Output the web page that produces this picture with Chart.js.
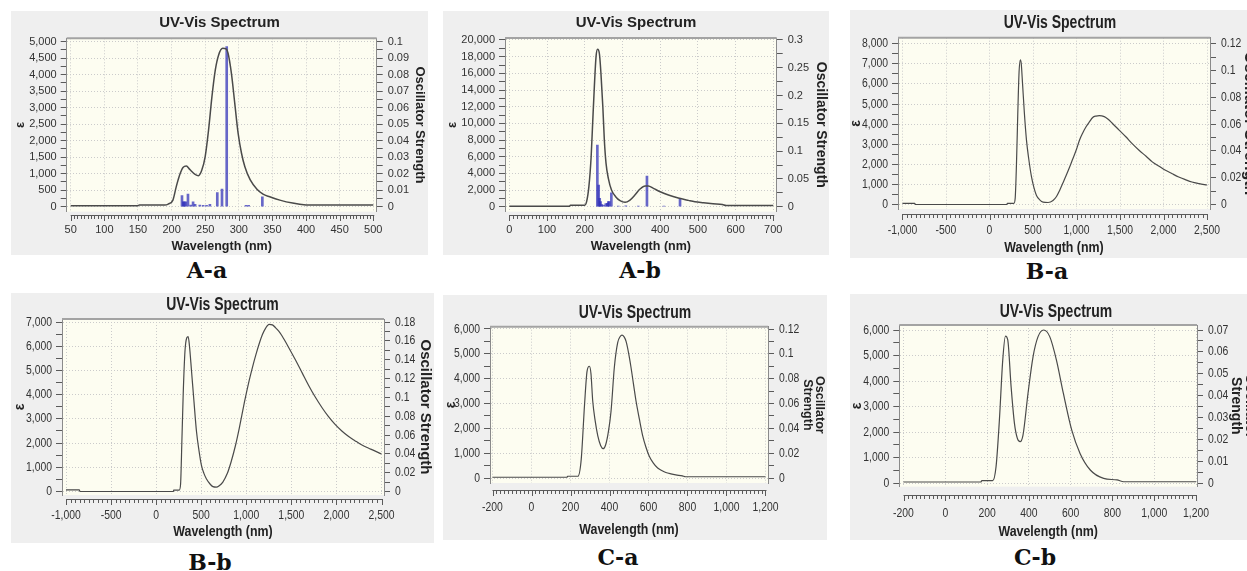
<!DOCTYPE html>
<html>
<head>
<meta charset="utf-8">
<title>UV-Vis Spectra</title>
<script src="https://cdn.jsdelivr.net/npm/chart.js@4.4.1/dist/chart.umd.min.js"></script>
<style>
  html, body { margin: 0; padding: 0; background: #fff; width: 1247px; height: 571px; overflow: hidden; position: relative; }
  canvas.panel { position: absolute; background: #efefef; }
  .tag { position: absolute; font-family: "DejaVu Serif", serif; font-weight: bold; font-size: 22px; line-height: 1; color: #111; transform: translate(-50%, -50%); white-space: nowrap; }
</style>
</head>
<body>
<script>
// ---- A-a ----
const aaWave = [50, 150, 152, 190, 195, 202, 207, 212, 217, 222, 227, 235, 240, 245, 250, 255, 260, 265, 270, 276, 281, 284, 289, 294, 299, 304, 309, 317, 327, 336, 346, 361, 380, 400, 410, 500];
const aaEps = [30, 30, 50, 50, 80, 200, 610, 960, 1190, 1230, 1130, 980, 940, 1110, 1520, 2320, 3330, 4140, 4600, 4800, 4780, 4650, 4040, 3130, 2220, 1620, 1210, 810, 530, 380, 300, 200, 110, 55, 50, 50];
const aaStickWave = [215.5, 217.5, 219, 221, 224.4, 228.4, 232, 235, 242, 247, 252, 257, 268, 275, 282, 310.7, 314.6, 335];
const aaStickOsc = [0.0067, 0.003, 0.003, 0.003, 0.0077, 0.001, 0.003, 0.0015, 0.001, 0.0008, 0.0008, 0.0015, 0.0086, 0.0107, 0.097, 0.0008, 0.0008, 0.006];
const aaXAxis = [50, 500, 50, 5];        // first, last, labelled step, minor step
const aaYAxis = [5000, 500, 250];        // top, labelled step, minor step
const aaY2Axis = [0.1, 0.01, 0.005];

// ---- A-b ----
const abWave = [0, 160, 162, 200, 205, 211, 217, 221, 225.5, 230, 234, 239, 243, 248, 252, 256.5, 262.6, 271, 282, 293.6, 307, 320, 333, 346.6, 360, 368.7, 382, 400, 422, 448, 475, 492, 515, 540, 565, 575, 700];
const abEps = [60, 60, 180, 180, 600, 2400, 6000, 10000, 14400, 18000, 18880, 18320, 16000, 12000, 8000, 5200, 3400, 2000, 1200, 720, 520, 800, 1400, 2120, 2480, 2480, 2200, 1800, 1400, 1040, 760, 600, 480, 360, 260, 150, 150];
const abStickWave = [233.5, 237, 239.7, 242, 245, 250, 256, 260, 262.6, 265, 270.6, 289, 309, 342, 365, 410, 452.7];
const abStickOsc = [0.111, 0.039, 0.015, 0.009, 0.004, 0.003, 0.0055, 0.006, 0.009, 0.009, 0.025, 0.001, 0.0015, 0.001, 0.055, 0.001, 0.015];
const abXAxis = [0, 700, 100, 10];
const abYAxis = [20000, 2000, 1000];
const abY2Axis = [0.3, 0.05, 0.025];

// ---- B-a ----
const baWave = [-1000, -860, -850, 200, 205, 280, 295, 310, 325, 340, 355, 365, 380, 400, 425, 450, 483, 510, 540, 580, 616, 673, 730, 770, 806, 845, 882, 920, 958, 1000, 1034, 1070, 1110, 1150, 1186, 1224, 1262, 1319, 1360, 1414, 1490, 1567, 1640, 1719, 1800, 1871, 1950, 2023, 2100, 2175, 2250, 2327, 2410, 2500];
const baEps = [60, 60, 0, 0, 60, 60, 300, 2000, 4500, 6600, 7200, 7000, 6000, 4600, 3200, 2300, 1370, 850, 450, 220, 120, 100, 200, 400, 700, 1080, 1450, 1850, 2280, 2750, 3200, 3550, 3870, 4120, 4330, 4400, 4420, 4370, 4250, 4030, 3700, 3370, 3030, 2700, 2400, 2120, 1900, 1700, 1530, 1370, 1240, 1120, 1040, 970];
const baXAxis = [-1000, 2500, 500, 50];
const baYAxis = [8000, 1000, 500];
const baY2Axis = [0.12, 0.02, 0.01];

// ---- B-b ----
const bbWave = [-1000, -853, -845, 190, 195, 256, 271, 285, 300, 320, 340, 355, 370, 392, 420, 447, 475, 502, 530, 557, 600, 630, 667, 700, 740, 790, 832, 880, 923, 980, 1033, 1070, 1106, 1143, 1179, 1215, 1253, 1290, 1326, 1360, 1399, 1470, 1546, 1620, 1692, 1765, 1839, 1910, 1985, 2060, 2132, 2205, 2278, 2380, 2500];
const bbEps = [70, 70, 0, 0, 60, 60, 300, 2000, 4000, 5800, 6350, 6400, 6000, 5000, 3700, 2500, 1700, 1090, 750, 530, 300, 200, 180, 240, 390, 750, 1230, 1900, 2630, 3700, 4600, 5150, 5640, 6100, 6480, 6750, 6900, 6880, 6760, 6620, 6410, 5950, 5430, 4900, 4380, 3900, 3470, 3100, 2770, 2500, 2280, 2100, 1930, 1750, 1550];
const bbXAxis = [-1000, 2500, 500, 50];
const bbYAxis = [7000, 1000, 500];
const bbY2Axis = [0.18, 0.02, 0.01];

// ---- C-a ----
const caWave = [-200, 182, 185, 238, 255, 272, 285, 297, 305, 314, 327, 340, 355, 368, 380, 395, 408, 425, 442, 455, 464, 475, 485, 497, 510, 523, 536, 553, 570, 587, 604, 625, 647, 670, 689, 715, 740, 774, 790, 1200];
const caEps = [30, 30, 70, 70, 750, 2950, 4300, 4500, 4200, 3100, 2280, 1700, 1300, 1180, 1330, 1900, 2700, 4470, 5450, 5700, 5750, 5680, 5500, 5070, 4470, 3780, 3100, 2380, 1710, 1240, 880, 600, 400, 290, 220, 165, 125, 85, 50, 50];
const caXAxis = [-200, 1200, 200, 20];
const caYAxis = [6000, 1000, 500];
const caY2Axis = [0.12, 0.02, 0.01];

// ---- C-b ----
const cbWave = [-200, 170, 175, 227, 243, 259, 275, 288, 299, 315, 331, 345, 358, 372, 396, 420, 444, 471, 500, 532, 565, 605, 645, 694, 758, 822, 854, 1200];
const cbEps = [40, 40, 90, 90, 640, 2470, 4820, 5760, 5610, 3780, 2340, 1750, 1620, 1880, 3520, 4950, 5740, 6000, 5740, 4820, 3520, 2080, 1160, 510, 180, 120, 50, 50];
const cbXAxis = [-200, 1200, 200, 20];
const cbYAxis = [6000, 1000, 500];
const cbY2Axis = [0.07, 0.01, 0.005];

const panels = [
  { tag: 'A-a', wave: aaWave, eps: aaEps, stickWave: aaStickWave, stickOsc: aaStickOsc, xAxis: aaXAxis, yAxis: aaYAxis, y2Axis: aaY2Axis, rightTitle: 'Oscillator Strength' },
  { tag: 'A-b', wave: abWave, eps: abEps, stickWave: abStickWave, stickOsc: abStickOsc, xAxis: abXAxis, yAxis: abYAxis, y2Axis: abY2Axis, rightTitle: 'Oscillator Strength' },
  { tag: 'B-a', wave: baWave, eps: baEps, stickWave: [], stickOsc: [], xAxis: baXAxis, yAxis: baYAxis, y2Axis: baY2Axis, rightTitle: 'Oscillator Strength' },
  { tag: 'B-b', wave: bbWave, eps: bbEps, stickWave: [], stickOsc: [], xAxis: bbXAxis, yAxis: bbYAxis, y2Axis: bbY2Axis, rightTitle: 'Oscillator Strength' },
  { tag: 'C-a', wave: caWave, eps: caEps, stickWave: [], stickOsc: [], xAxis: caXAxis, yAxis: caYAxis, y2Axis: caY2Axis, rightTitle: ['Oscillator', 'Strength'] },
  { tag: 'C-b', wave: cbWave, eps: cbEps, stickWave: [], stickOsc: [], xAxis: cbXAxis, yAxis: cbYAxis, y2Axis: cbY2Axis, rightTitle: ['Oscillator', 'Strength'] }
];

// page layout (pixels), kept apart from the data
const layout = {
  'A-a': { box: [11, 11, 428, 255], plot: [66.7, 38.3, 376.7, 211.7], xPx: [70.7, 373.3], yPx: [206.7, 41.7], ruler: 215, titleY: 23, xLabelY: 230, xTitleY: 247, epsX: 20.7, rightX: 420, narrow: false, rightSize: 13, rightLH: 1.2, tagXY: [207, 270] },
  'A-b': { box: [443, 11, 829, 255], plot: [505, 38, 776.7, 211.7], xPx: [509.3, 773.3], yPx: [206.7, 40], ruler: 215, titleY: 23, xLabelY: 230, xTitleY: 247, epsX: 452, rightX: 821, narrow: false, rightSize: 14, rightLH: 1.2, tagXY: [640, 270] },
  'B-a': { box: [850, 10, 1270, 258], plot: [898, 37.7, 1210, 209], xPx: [902.5, 1207], yPx: [204.5, 43.7], ruler: 214, titleY: 23.3, xLabelY: 230, xTitleY: 248, epsX: 856, rightX: 1249, narrow: true, rightSize: 16, rightLH: 1.2, tagXY: [1047, 271] },
  'B-b': { box: [11, 293, 434, 543], plot: [62, 319, 384, 495], xPx: [66, 381.5], yPx: [491.5, 322], ruler: 499, titleY: 305, xLabelY: 515, xTitleY: 532, epsX: 20, rightX: 425, narrow: true, rightSize: 15, rightLH: 1.2, tagXY: [210, 562] },
  'C-a': { box: [443, 295, 827, 540], plot: [490, 326.7, 768, 483], xPx: [492.5, 765.5], yPx: [478, 329], ruler: 490, titleY: 313, xLabelY: 507, xTitleY: 530, epsX: 451, rightX: 819, narrow: true, rightSize: 12.5, rightLH: 0.9, tagXY: [618, 557] },
  'C-b': { box: [850, 294, 1262, 540], plot: [899.3, 325, 1197, 486.7], xPx: [903.5, 1196], yPx: [483, 330], ruler: 495, titleY: 312, xLabelY: 513, xTitleY: 532, epsX: 857, rightX: 1250, narrow: true, rightSize: 14, rightLH: 1.0, tagXY: [1035, 557] }
};

const SANS = '"Liberation Sans", Arial, sans-serif';
const NARROW = '"Liberation Sans Narrow", "Liberation Sans", Arial, sans-serif';
const SQUEEZE = 0.8;   // the B and C screenshots were squeezed sideways

function isMajor(v, step) {
  const r = v / step;
  return Math.abs(r - Math.round(r)) < 1e-6;
}

function tickList(lo, hi, step) {
  const n = Math.round((hi - lo) / step);
  const out = [];
  for (let i = 0; i <= n; i++) out.push({ value: +(lo + i * step).toFixed(6) });
  return out;
}

// draws text in the "Narrow" family a bit condensed, around its own anchor
function squeezeText(ctx) {
  const fill = ctx.fillText.bind(ctx);
  ctx.fillText = function (text, x, y, maxWidth) {
    if (this.font.indexOf('Narrow') < 0) return fill(text, x, y, maxWidth);
    this.save();
    this.translate(x, y);
    this.scale(SQUEEZE, 1);
    fill(text, 0, 0);
    this.restore();
  };
}

// cream plot area + top frame line
const framePlugin = {
  id: 'frame',
  beforeDraw(chart) {
    const { ctx, chartArea: a } = chart;
    ctx.save();
    ctx.fillStyle = '#fdfdf1';
    ctx.fillRect(a.left, a.top, a.right - a.left, a.bottom - a.top);
    ctx.restore();
  },
  afterDraw(chart) {
    const { ctx, chartArea: a } = chart;
    ctx.save();
    ctx.strokeStyle = '#a3a3a3';
    ctx.lineWidth = 2;
    ctx.beginPath();
    ctx.moveTo(a.left, a.top);
    ctx.lineTo(a.right, a.top);
    ctx.stroke();
    ctx.restore();
  }
};

// wavelength ruler sitting a little under the plot, built from the x scale
const rulerPlugin = {
  id: 'ruler',
  afterDraw(chart, args, opts) {
    const xs = chart.scales.x;
    const ctx = chart.ctx;
    const y0 = opts.y;
    ctx.save();
    ctx.strokeStyle = '#5a5a5a';
    ctx.lineWidth = 1;
    ctx.beginPath();
    ctx.moveTo(xs.getPixelForValue(opts.lo), y0 + 0.5);
    ctx.lineTo(xs.getPixelForValue(opts.hi) + 1, y0 + 0.5);
    xs.ticks.forEach(t => {
      const px = Math.round(xs.getPixelForValue(t.value)) + 0.5;
      const len = isMajor(t.value, opts.major) ? 6 : 4;
      ctx.moveTo(px, y0);
      ctx.lineTo(px, y0 + len);
    });
    ctx.stroke();
    ctx.restore();
  }
};

function makeChart(p) {
  const L = layout[p.tag];
  const [bl, bt, br, bb] = L.box;
  const w = br - bl, h = bb - bt;
  const [pl, pt, pr, pb] = L.plot;
  const fam = L.narrow ? NARROW : SANS;
  const titleSize = L.narrow ? 17.5 : 15;
  const tickSize = L.narrow ? 13 : 11;
  const axisTitleSize = L.narrow ? 15.5 : 12.5;

  const [xlo, xhi, xMajor, xMinor] = p.xAxis;
  const [yTop, yMajor, yMinor] = p.yAxis;
  const [y2Top, y2Major, y2Minor] = p.y2Axis;

  // extend the scale ranges so the nominal ticks land where the reference has them
  const xPerPx = (xhi - xlo) / (L.xPx[1] - L.xPx[0]);
  const xMin = xlo - (L.xPx[0] - pl) * xPerPx;
  const xMax = xhi + (pr - L.xPx[1]) * xPerPx;
  const yPerPx = yTop / (L.yPx[0] - L.yPx[1]);
  const yMin = -(pb - L.yPx[0]) * yPerPx;
  const yMax = yTop + (L.yPx[1] - pt) * yPerPx;
  const k = y2Top / yTop;

  const canvas = document.createElement('canvas');
  canvas.className = 'panel';
  canvas.width = w;
  canvas.height = h;
  canvas.style.left = bl + 'px';
  canvas.style.top = bt + 'px';
  document.body.appendChild(canvas);
  squeezeText(canvas.getContext('2d'));

  const tag = document.createElement('div');
  tag.className = 'tag';
  tag.textContent = p.tag;
  tag.style.left = L.tagXY[0] + 'px';
  tag.style.top = L.tagXY[1] + 'px';
  document.body.appendChild(tag);

  const titleLH = titleSize * 1.2;
  const titlePadTop = L.titleY - bt - titleLH / 2;
  const titlePadBottom = pt - bt - titleLH - titlePadTop;

  const axisLH = axisTitleSize * 1.2;
  const epsSize = L.narrow ? 14 : 13;
  const epsLH = epsSize * 1.2;
  const rightLH = L.rightSize * L.rightLH;
  const gridColor = '#cbcbcb';

  const datasets = [{
    type: 'line',
    data: p.wave.map((x, i) => ({ x, y: p.eps[i] })),
    yAxisID: 'y',
    borderColor: '#4a4a4a',
    borderWidth: L.narrow ? 1.2 : 1.5,
    pointRadius: 0,
    cubicInterpolationMode: 'monotone',
    order: 1
  }];
  if (p.stickWave.length) {
    datasets.push({
      type: 'bar',
      data: p.stickWave.map((x, i) => ({ x, y: p.stickOsc[i] })),
      yAxisID: 'y2',
      backgroundColor: 'rgba(45, 45, 185, 0.72)',
      barThickness: 2,
      order: 2
    });
  }

  new Chart(canvas, {
    type: 'line',
    data: { datasets },
    plugins: [framePlugin, rulerPlugin],
    options: {
      responsive: false,
      animation: false,
      devicePixelRatio: 1,
      layout: { padding: 0 },
      plugins: {
        legend: { display: false },
        tooltip: { enabled: false },
        title: {
          display: true,
          text: 'UV-Vis Spectrum',
          color: '#222',
          font: { family: fam, size: titleSize, weight: 'bold' },
          padding: { top: titlePadTop, bottom: titlePadBottom }
        },
        ruler: { y: L.ruler - bt, lo: xlo, hi: xhi, major: xMajor }
      },
      scales: {
        x: {
          type: 'linear',
          min: xMin,
          max: xMax,
          bounds: 'data',
          offset: false,
          afterBuildTicks: s => { s.ticks = tickList(xlo, xhi, xMinor); },
          afterFit: s => { s.height = bb - pb; },
          ticks: {
            autoSkip: false,
            maxRotation: 0,
            color: '#333',
            font: { family: fam, size: tickSize },
            padding: L.xLabelY - pb - tickSize * 0.6,
            callback: v => isMajor(v, xMajor) ? v.toLocaleString('en-US') : ''
          },
          grid: {
            offset: false,
            drawTicks: false,
            color: c => (c.tick && isMajor(c.tick.value, xMajor)) ? gridColor : 'transparent'
          },
          border: { display: false, dash: [1, 2] },
          title: {
            display: true,
            text: 'Wavelength (nm)',
            color: '#222',
            font: { family: fam, size: axisTitleSize, weight: 'bold' },
            padding: { top: 0, bottom: bb - L.xTitleY - axisLH / 2 }
          }
        },
        y: {
          type: 'linear',
          position: 'left',
          min: yMin,
          max: yMax,
          bounds: 'data',
          afterBuildTicks: s => { s.ticks = tickList(0, yTop, yMinor); },
          afterFit: s => { s.width = pl - bl; },
          ticks: {
            autoSkip: false,
            color: '#333',
            font: { family: fam, size: tickSize },
            padding: 4,
            callback: v => isMajor(v, yMajor) ? v.toLocaleString('en-US') : ''
          },
          grid: {
            tickLength: 6,
            tickColor: '#5a5a5a',
            color: c => (c.tick && isMajor(c.tick.value, yMajor)) ? gridColor : 'transparent'
          },
          border: { display: true, color: '#8a8a8a', dash: [1, 2] },
          title: {
            display: true,
            text: 'ε',
            color: '#222',
            font: { family: SANS, size: epsSize, weight: 'bold' },
            padding: { top: L.epsX - bl - epsLH / 2, bottom: 0 }
          }
        },
        y2: {
          type: 'linear',
          position: 'right',
          min: yMin * k,
          max: yMax * k,
          bounds: 'data',
          afterBuildTicks: s => { s.ticks = tickList(0, y2Top, y2Minor); },
          afterFit: s => { s.width = br - pr; },
          ticks: {
            autoSkip: false,
            color: '#333',
            font: { family: fam, size: tickSize },
            padding: 5,
            callback: v => isMajor(v, y2Major) ? String(parseFloat(v.toFixed(4))) : ''
          },
          grid: {
            drawOnChartArea: false,
            tickLength: 6,
            tickColor: '#5a5a5a'
          },
          border: { display: true, color: '#8a8a8a' },
          title: {
            display: true,
            text: p.rightTitle,
            color: '#222',
            font: { family: SANS, size: L.rightSize, weight: 'bold', lineHeight: L.rightLH },
            padding: { top: br - L.rightX - rightLH / 2, bottom: 0 }
          }
        }
      }
    }
  });
}

panels.forEach(makeChart);
</script>
</body>
</html>
